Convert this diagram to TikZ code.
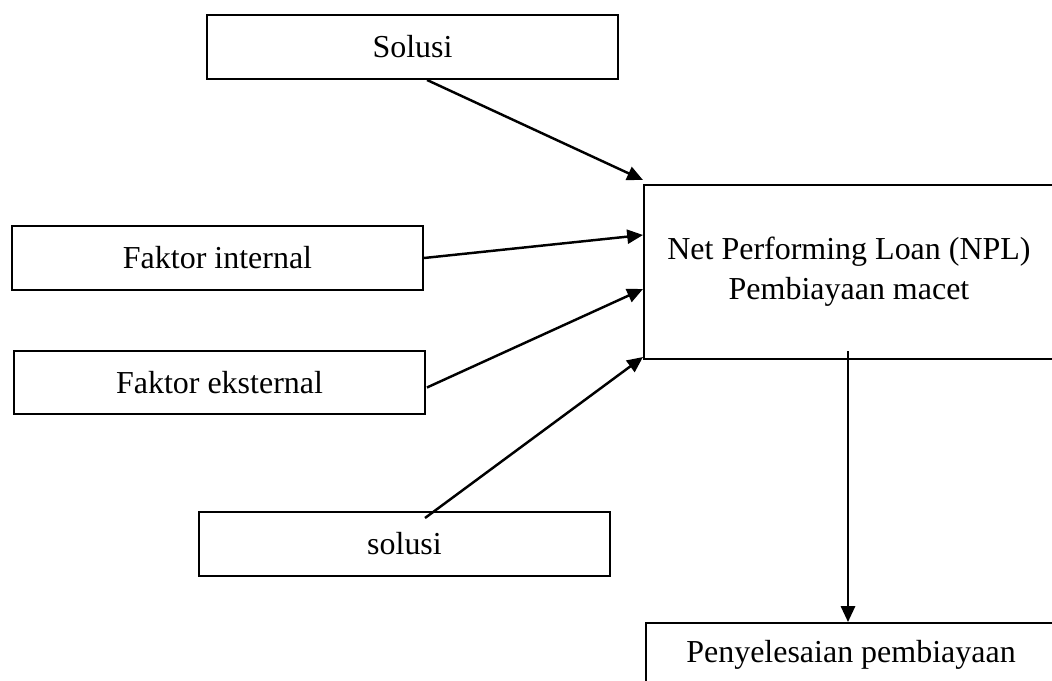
\documentclass[tikz,border=0pt]{standalone}
\usepackage{fontspec}
\setmainfont{Liberation Serif}
\usetikzlibrary{arrows.meta,calc}
\begin{document}
\begin{tikzpicture}[x=0.02cm,y=-0.02cm,
  box/.style={draw,line width=1.1pt,rectangle,inner sep=0pt,font=\fontsize{18.2}{22.8}\selectfont,align=center},
  arr/.style={line width=1.4pt,-{Triangle[length=9pt,width=8pt]}}]
\useasboundingbox (0,0) rectangle (1052,680);
\clip (0,0) rectangle (1052,680);
\node[box,minimum width=411*0.02cm,minimum height=64*0.02cm] (sol) at (412.5,47) {};
\node[box,minimum width=411*0.02cm,minimum height=64*0.02cm] (int) at (217.5,258) {Faktor internal};
\node[box,minimum width=411*0.02cm,minimum height=63*0.02cm] (ext) at (219.5,382.5) {Faktor eksternal};
\node[box,minimum width=411*0.02cm,minimum height=64*0.02cm] (sol2) at (404.5,544) {solusi};
\node[box,minimum width=410*0.02cm,minimum height=174*0.02cm] (npl) at (849,272) {Net Performing Loan (NPL)\\Pembiayaan macet};
\node[box,minimum width=410*0.02cm,minimum height=64*0.02cm] (pen) at (851,655) {Penyelesaian pembiayaan};
\node[font=\fontsize{18.2}{22.8}\selectfont] at (sol.center) {Solusi};
\coordinate (t1) at (643,180);
\coordinate (t2) at (643,235);
\coordinate (t3) at (643,289);
\coordinate (t4) at (643,357);
\coordinate (s4) at (425,518);
\coordinate (s5) at (848,351);
\draw[arr] ($(sol.south)+(14.5,0)$) -- (t1);
\draw[arr] (int.east) -- (t2);
\draw[arr] ($(ext.east)+(1,5)$) -- (t3);
\draw[arr] (s4) -- (t4);
\draw[arr] (s5) -- (s5 |- pen.north);
\end{tikzpicture}
\end{document}
